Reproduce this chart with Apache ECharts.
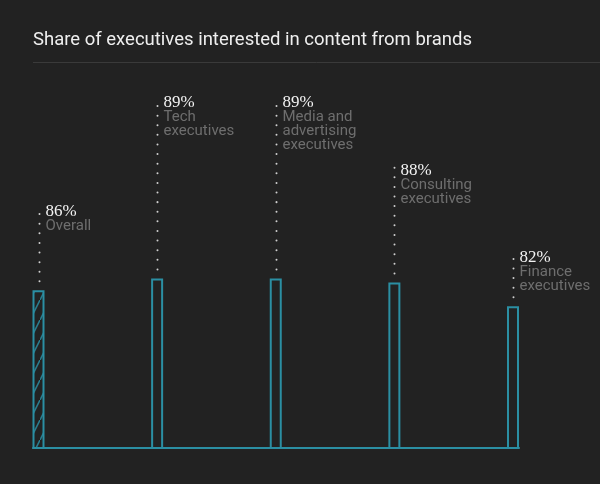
<!DOCTYPE html>
<html>
<head>
<meta charset="utf-8">
<script src="https://cdn.jsdelivr.net/npm/echarts@6/dist/echarts.min.js"></script>
<style>
  html, body { margin: 0; padding: 0; background: #222222; }
  #chart { width: 600px; height: 484px; }
</style>
</head>
<body>
<div id="chart"></div>
<script>
// ---- data ----
const titleText = 'Share of executives interested in content from brands';
const categories = ['Overall', 'Tech\nexecutives', 'Media and\nadvertising\nexecutives', 'Consulting\nexecutives', 'Finance\nexecutives'];
const values = [86, 89, 89, 88, 82];
const valueLabels = ['86%', '89%', '89%', '88%', '82%'];

// ---- layout (pixels above each bar top where its label starts) ----
const labelLift = [84, 181, 181, 117, 54];

const TEAL = '#2b8fa3';
const BG = '#222222';

// hatch pattern for the "Overall" bar
function makeHatch() {
  const c = document.createElement('canvas');
  c.width = 10; c.height = 20;
  const ctx = c.getContext('2d');
  ctx.fillStyle = BG;
  ctx.fillRect(0, 0, 10, 20);
  ctx.strokeStyle = '#2a7d8e';
  ctx.lineWidth = 1.6;
  ctx.beginPath();
  ctx.moveTo(-1, 22); ctx.lineTo(11, -2);
  ctx.stroke();
  return c;
}

const chart = echarts.init(document.getElementById('chart'), null, { renderer: 'canvas' });

const barData = values.map((v, i) => {
  const item = { value: [i, v] };
  if (i === 0) {
    item.itemStyle = { color: { image: makeHatch(), repeat: 'repeat' } };
  }
  return item;
});

const option = {
  backgroundColor: BG,
  animation: false,
  title: {
    text: titleText,
    left: 33,
    top: 31,
    padding: 0,
    textStyle: { color: '#efefef', fontFamily: 'Roboto', fontSize: 18.5, fontWeight: 'normal' }
  },
  graphic: [{
    type: 'line',
    shape: { x1: 33, y1: 62.5, x2: 600, y2: 62.5 },
    style: { stroke: '#3a3a3a', lineWidth: 1 }
  }],
  grid: { left: 33, right: 81, top: 234.5, bottom: 36 },
  xAxis: {
    type: 'value',
    min: -0.0464,
    max: 4.0506,
    axisLine: { show: true, lineStyle: { color: TEAL, width: 2 } },
    axisTick: { show: false },
    axisLabel: { show: false },
    splitLine: { show: false }
  },
  yAxis: {
    type: 'value',
    min: 46.5,
    max: 100,
    show: false,
    splitLine: { show: false }
  },
  series: [
    {
      type: 'bar',
      barWidth: 12,
      data: barData,
      itemStyle: { color: BG, borderColor: TEAL, borderWidth: 2 },
      z: 3
    },
    {
      type: 'custom',
      data: values.map((v, i) => [i, v]),
      z: 4,
      renderItem: function (params, api) {
        const idx = params.dataIndex;
        const p = api.coord([api.value(0), api.value(1)]);
        const x = Math.round(p[0]) + 0.5;
        const top = p[1] - labelLift[idx];
        return {
          type: 'group',
          children: [
            {
              type: 'line',
              shape: { x1: x, y1: p[1] - 9, x2: x, y2: top },
              style: { stroke: '#cfcfcf', lineWidth: 2, lineDash: [0.01, 9.6], lineCap: 'round' }
            },
            {
              type: 'text',
              x: x + 6,
              y: top - 3,
              style: {
                text: valueLabels[idx],
                fontFamily: 'Liberation Serif',
                fontSize: 17,
                fill: '#f2f2f2',
                align: 'left',
                verticalAlign: 'top'
              }
            },
            {
              type: 'text',
              x: x + 6,
              y: top + 13,
              style: {
                text: categories[idx],
                fontFamily: 'Roboto',
                fontSize: 15,
                lineHeight: 14,
                fill: '#6e6e6e',
                align: 'left',
                verticalAlign: 'top'
              }
            }
          ]
        };
      }
    }
  ]
};

chart.setOption(option);
</script>
</body>
</html>
